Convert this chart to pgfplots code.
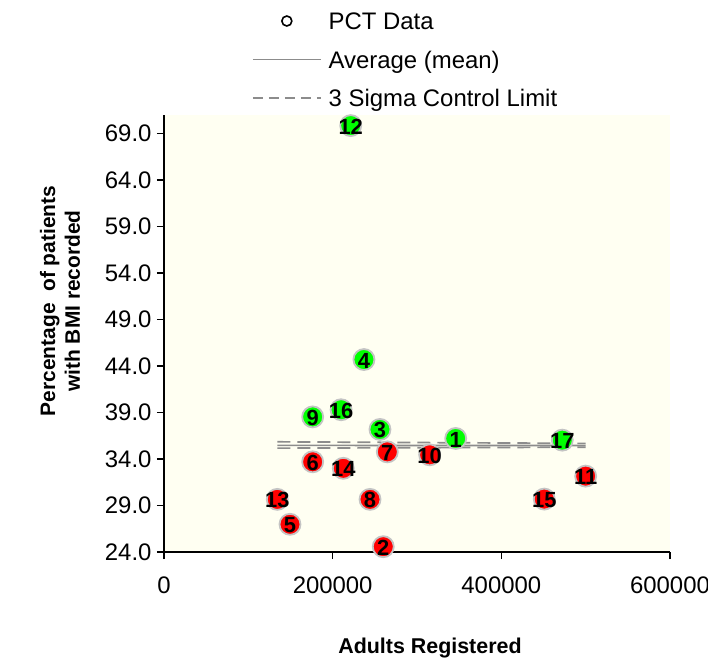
\documentclass[border=0pt]{standalone}
\usepackage{pgfplots}
\pgfplotsset{compat=1.18}
\usepackage{pgfplotstable}
\usepackage{fontspec}
\setmainfont{Liberation Sans}
\definecolor{bgcream}{RGB}{255,255,242}
\definecolor{ptred}{RGB}{255,0,0}
\definecolor{ptgreen}{RGB}{0,255,0}
\definecolor{ringgray}{RGB}{196,196,196}
\definecolor{linegray}{RGB}{140,140,140}
\pgfplotsset{
  mylegline/.style={legend image code/.code={\draw[##1] (0bp,0.3em) -- (68bp,0.3em);}},
  mylegcirc/.style={legend image code/.code={\draw[black, line width=1.6bp] (34bp,0.3em) circle (5bp);}},
}
\pgfplotstableread{
x y lab
260000 24.57 2
149400 26.98 5
176300 33.70 6
264800 34.77 7
244300 29.66 8
315000 34.45 10
500000 32.16 11
134300 29.66 13
212600 33.00 14
450900 29.69 15
}\reddata
\pgfplotstableread{
x y lab
345900 36.21 1
256100 37.18 3
237100 44.70 4
176300 38.53 9
221400 69.86 12
210000 39.30 16
472300 36.03 17
}\greendata
\begin{document}
\begin{tikzpicture}
\begin{axis}[
  scale only axis, width=506bp, height=437bp,
  at={(0,0)}, anchor=south west,
  clip=false,
  xmin=0, xmax=600000, ymin=24, ymax=71,
  axis x line*=bottom, axis y line*=left,
  axis line style={black, line width=1.3bp, -},
  axis background/.style={fill=bgcream},
  xtick={0,200000,400000,600000},
  ytick={24,29,34,39,44,49,54,59,64,69},
  scaled x ticks=false,
  tick align=outside,
  major tick length=7bp,
  tick style={black, line width=1.3bp},
  /pgf/number format/assume math mode=true,
  xticklabel={\pgfmathprintnumber[fixed,precision=0,1000 sep={}]{\tick}},
  yticklabel={\pgfmathprintnumber[fixed,fixed zerofill,precision=1]{\tick}},
  tick label style={font=\fontsize{24}{28}\selectfont, text=black},
  xticklabel style={yshift=-14bp},
  yticklabel style={xshift=-2bp},
  xlabel={Adults Registered},
  xlabel style={at={(axis description cs:0.5257,-0.2200)}, anchor=center, font=\bfseries\fontsize{21.5}{25}\selectfont},
  ylabel={Percentage\ \ of patients\\with BMI recorded},
  ylabel style={at={(axis description cs:-0.2055,0.5744)}, anchor=center, rotate=0, align=center, font=\bfseries\fontsize{21}{25}\selectfont},
  legend style={at={(axis description cs:0.174,1.0)}, anchor=south west, yshift=1bp,
    draw=none, fill=none, inner sep=0pt, outer sep=0pt,
    font=\fontsize{24}{28}\selectfont, row sep=12.5bp,
    nodes={inner sep=1bp, text height=18bp, text depth=6bp},
    /tikz/every odd column/.style={column sep=6bp}},
  legend cell align=left,
]
\addlegendimage{black, mylegcirc}
\addlegendentry{PCT Data}
\addlegendimage{linegray, line width=1.6bp, mylegline}
\addlegendentry{Average (mean)}
\addlegendimage{linegray, line width=1.6bp, dash pattern=on 10bp off 6bp, mylegline}
\addlegendentry{3 Sigma Control Limit}

% markers
\addplot[forget plot, only marks, mark=*, mark size=10.5bp,
  mark options={fill=ptred, draw=ringgray, line width=1.8bp}] table[x=x, y=y] {\reddata};
\addplot[forget plot, only marks, mark=*, mark size=10.5bp,
  mark options={fill=ptgreen, draw=ringgray, line width=1.8bp}] table[x=x, y=y] {\greendata};

% average and control limits
\addplot[forget plot, linegray, line width=1.7bp] coordinates {(134300,35.47) (500000,35.45)};
\addplot[forget plot, linegray, line width=1.7bp, dash pattern=on 13bp off 7bp] coordinates {(134300,35.85) (500000,35.68)};
\addplot[forget plot, linegray, line width=1.7bp, dash pattern=on 13bp off 7bp] coordinates {(134300,35.17) (500000,35.27)};

% point labels
\addplot[forget plot, draw=none, mark=none, nodes near coords, point meta=explicit symbolic,
  every node near coord/.append style={anchor=center, inner sep=0pt, yshift=-1bp, text=black, font=\bfseries\fontsize{22}{22}\selectfont}]
  table[x=x, y=y, meta=lab] {\reddata};
\addplot[forget plot, draw=none, mark=none, nodes near coords, point meta=explicit symbolic,
  every node near coord/.append style={anchor=center, inner sep=0pt, yshift=-1bp, text=black, font=\bfseries\fontsize{22}{22}\selectfont}]
  table[x=x, y=y, meta=lab] {\greendata};
\end{axis}
\pgfresetboundingbox
\useasboundingbox (-164bp,-108bp) rectangle (544bp,552bp);
\end{tikzpicture}
\end{document}
